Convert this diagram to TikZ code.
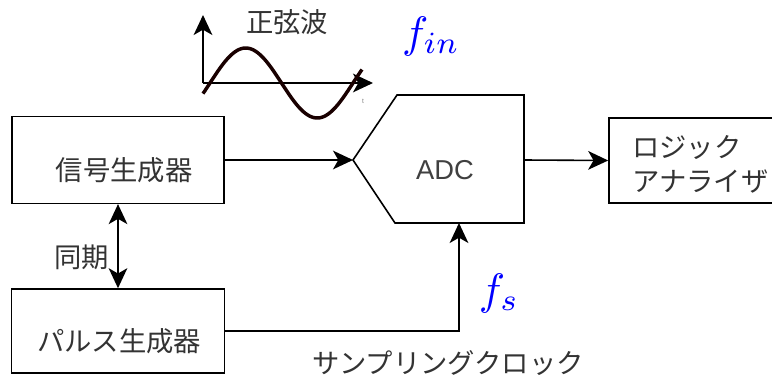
\documentclass[tikz,border=0pt]{standalone}
\usepackage{fontspec}
\setmainfont{Liberation Sans}
\newfontfamily\jpfont{Noto Sans CJK JP}
\usetikzlibrary{arrows.meta}

\tikzset{
  box/.style={draw, line width=1.2pt, inner sep=0pt},
  jp/.style={font=\jpfont\fontsize{20.5}{24}\selectfont, text=black!80, inner sep=0pt},
  tip/.style={-{Stealth[length=15pt,width=14pt,inset=4pt]}},
  sig/.style={line width=1.2pt, tip},
  freq/.style={text=blue, inner sep=0pt},
}

\begin{document}
\begin{tikzpicture}[x=0.75pt,y=-0.75pt]
  \useasboundingbox (0,0) rectangle (772,379);
  \clip (0,0) rectangle (772,379);
  % blocks
  \node[box, minimum width=159pt, minimum height=65pt] (siggen) at (118,160) {};
  \node[box, minimum width=160pt, minimum height=63pt] (pulsegen) at (118,331) {};
  \node[box, minimum width=150pt, minimum height=64pt] (logic) at (709,160.5) {};
  \node[jp] (siggentxt) at (124,170) {信号生成器};
  \node[jp] (pulsegentxt) at (119,341) {パルス生成器};
  \node[jp, anchor=west] (logictxta) at (632,147) {ロジック};
  \node[jp, anchor=west] (logictxtb) at (632,182) {アナライザ};
  % ADC
  \coordinate (adcin) at (353,160);
  \coordinate (adcout) at (524,160);
  \coordinate (adcbot) at (459,223);
  \draw[line width=1.2pt, line join=miter] (adcin) -- (397,95) -- (524,95) -- (524,223) -- (395,223) -- cycle;
  \node[font=\fontsize{20.5}{24}\selectfont, text=black!75] (adc) at (445,170) {ADC};
  % connectors
  \draw[sig] (siggen.east) -- (adcin);
  \draw[sig] (adcout) -- (logic.west);
  \draw[sig] (pulsegen.east) -| (adcbot);
  \draw[line width=1.2pt, {Stealth[length=15pt,width=14pt,inset=4pt]}-{Stealth[length=15pt,width=14pt,inset=4pt]}] (siggen.south) -- (pulsegen.north);
  \node[jp] (synctxt) at (82,257) {同期};
  \node[jp] (clocktxt) at (448,363) {サンプリングクロック};
  % sine wave
  \coordinate (origin) at (203,83);
  \draw[sig] (origin) -- (203,15);
  \draw[sig] (origin) -- (373,83);
  \draw[line width=2.6pt, color=black!90!red] plot[domain=203:362, samples=80, smooth] (\x, {83-35*sin((\x-210)*2.5175)});
  \node[font=\tiny, text=black!50] (tlabel) at (363,101) {t};
  \node[jp] (sinetxt) at (287,22) {正弦波};
  % frequencies
  \node[freq] (fin) at (431,36) {\scalebox{3.3}{$f_{in}$}};
  \node[freq] (fs) at (499,293) {\scalebox{3.3}{$f_s$}};
\end{tikzpicture}
\end{document}
